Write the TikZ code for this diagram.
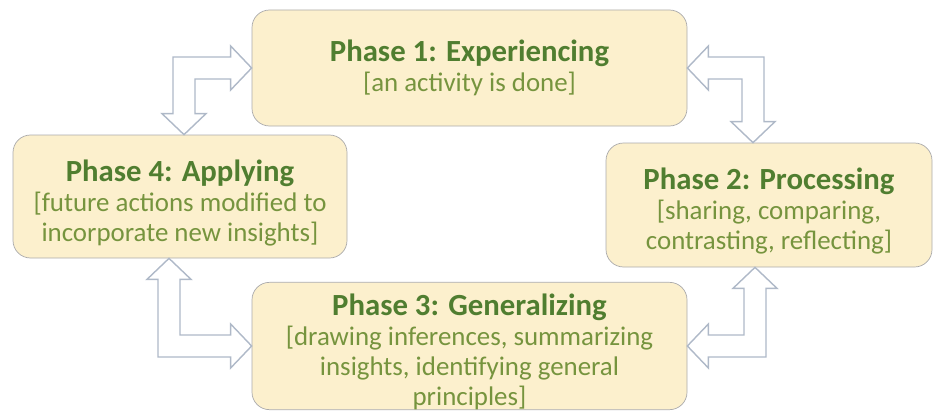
\documentclass[tikz,border=0pt]{standalone}
\usepackage{fontspec}
\setmainfont{Carlito}
\usetikzlibrary{calc}
\definecolor{phfill}{RGB}{252,240,205}
\definecolor{phline}{RGB}{170,170,172}
\definecolor{phtitle}{RGB}{80,126,48}
\definecolor{phtext}{RGB}{118,148,62}
\definecolor{arline}{RGB}{175,185,200}
\newcommand{\arW}{0.22}
\newcommand{\arH}{0.44}
\newcommand{\arL}{0.42}
\newcommand{\phtitle}[2][0pt]{{\bfseries\color{phtitle}\fontsize{17.5}{17}\selectfont\rule{0pt}{#1}#2}}

\begin{document}
\begin{tikzpicture}[every node/.style={font=\fontsize{15.3}{17}\selectfont},
      phase/.style={draw=phline,fill=phfill,rounded corners=0.35cm,align=center,inner sep=0pt,text=phtext},
      blockarrow/.style={draw=arline,fill=white,line width=0.8pt,line join=miter}]
    \useasboundingbox (0,0) rectangle (18.8,8.22);
    \node[phase,minimum width=8.7cm,minimum height=2.32cm]  (ph1) at (9.39,6.86) {\phtitle{Phase 1: Experiencing}\\ {[}an activity is done]};
    \node[phase,minimum width=6.52cm,minimum height=2.48cm] (ph2) at (15.38,4.12) {\phtitle[19pt]{Phase 2: Processing}\\ {[}sharing, comparing,\\ contrasting, reflecting]};
    \node[phase,minimum width=8.7cm,minimum height=2.44cm]  (ph3) at (9.39,1.30) {\phtitle[19pt]{Phase 3: Generalizing}\\ {[}drawing inferences, summarizing\\ insights, identifying general\\ principles]};
    \node[phase,minimum width=6.68cm,minimum height=2.46cm] (ph4) at (3.60,4.29) {\phtitle[20pt]{Phase 4: Applying}\\ {[}future actions modified to\\ incorporate new insights]};
    % bends of the block arrows
    \coordinate (x41) at (3.68,0);
    \coordinate (x12) at (15.06,0);
    \coordinate (x43) at (3.38,0);
    \coordinate (x32) at (15.10,0);
    \foreach \a/\b/\x/\sx/\sy in {ph1.west/ph4.north/x41/1/-1,ph1.east/ph2.north/x12/-1/-1,
                                  ph3.west/ph4.south/x43/1/1,ph3.east/ph2.south/x32/-1/1}{
      \draw[blockarrow] (\a)
        -- ($(\a)+({-(\sx)*\arL},{-(\sy)*\arH})$)
        -- ($(\a)+({-(\sx)*\arL},{-(\sy)*\arW})$)
        -- ($(\x |- \a)+({-(\sx)*\arW},{-(\sy)*\arW})$)
        -- ($(\x |- \b)+({-(\sx)*\arW},{-(\sy)*\arL})$)
        -- ($(\x |- \b)+({-(\sx)*\arH},{-(\sy)*\arL})$)
        -- (\x |- \b)
        -- ($(\x |- \b)+({(\sx)*\arH},{-(\sy)*\arL})$)
        -- ($(\x |- \b)+({(\sx)*\arW},{-(\sy)*\arL})$)
        -- ($(\x |- \a)+({(\sx)*\arW},{(\sy)*\arW})$)
        -- ($(\a)+({-(\sx)*\arL},{(\sy)*\arW})$)
        -- ($(\a)+({-(\sx)*\arL},{(\sy)*\arH})$)
        -- cycle;
    }
  \end{tikzpicture}
\end{document}
